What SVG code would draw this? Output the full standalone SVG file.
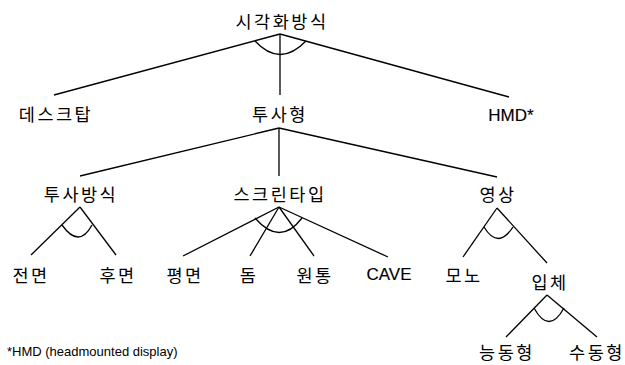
<svg xmlns="http://www.w3.org/2000/svg" width="625" height="365" viewBox="0 0 625 365">
<style>
.k{font-family:"Noto Sans CJK KR","Noto Sans",sans-serif;font-size:17.5px;letter-spacing:2.5px;text-anchor:middle;fill:#000}
.l{font-family:"Liberation Sans",Arial,sans-serif;font-size:17px;text-anchor:middle;fill:#000;stroke:#000;stroke-width:0.15}
.f{font-family:"Liberation Sans",Arial,sans-serif;font-size:13px;fill:#000}
.c line,.c path{stroke:#000;stroke-width:1.3;fill:none}
</style>
<rect width="625" height="365" fill="#fff"/>
<g class="c" id="connectors">
<line x1="280" y1="34" x2="54" y2="95"/>
<line x1="280" y1="34" x2="280" y2="95"/>
<line x1="280" y1="34" x2="509" y2="97"/>
<path d="M255,41 Q280,68 306,41"/>
<line x1="279" y1="128" x2="80" y2="176"/>
<line x1="279" y1="128" x2="279" y2="176"/>
<line x1="279" y1="128" x2="497" y2="177"/>
<line x1="80" y1="207" x2="31" y2="255"/>
<line x1="80" y1="207" x2="116" y2="255"/>
<path d="M62,225 Q79,249 92,225"/>
<line x1="279" y1="207" x2="183" y2="256"/>
<line x1="279" y1="207" x2="250" y2="256"/>
<line x1="279" y1="207" x2="314" y2="256"/>
<line x1="279" y1="207" x2="388" y2="257"/>
<path d="M255,218 Q280,247 302,218"/>
<line x1="497" y1="208" x2="463" y2="257"/>
<line x1="497" y1="208" x2="547" y2="263"/>
<path d="M484,227 Q498,250 513,227"/>
<line x1="547" y1="295" x2="506" y2="337"/>
<line x1="547" y1="295" x2="597" y2="337"/>
<path d="M534,308 Q549,335 564,308"/>
</g>
<g id="n-root"><text class="k" x="282" y="28">시각화방식</text></g>
<g id="n-desktop"><text class="k" x="56" y="121">데스크탑</text></g>
<g id="n-proj"><text class="k" x="280" y="121">투사형</text></g>
<g id="n-hmd"><text class="l" x="511" y="121">HMD*</text></g>
<g id="n-projmethod"><text class="k" x="81" y="201">투사방식</text></g>
<g id="n-screentype"><text class="k" x="280" y="201">스크린타입</text></g>
<g id="n-image"><text class="k" x="498" y="201">영상</text></g>
<g id="n-front"><text class="k" x="31" y="282">전면</text></g>
<g id="n-rear"><text class="k" x="118" y="282">후면</text></g>
<g id="n-flat"><text class="k" x="185" y="282">평면</text></g>
<g id="n-dome"><text class="k" x="249" y="282">돔</text></g>
<g id="n-cyl"><text class="k" x="315" y="282">원통</text></g>
<g id="n-cave"><text class="l" x="389" y="280">CAVE</text></g>
<g id="n-mono"><text class="k" x="464" y="282">모노</text></g>
<g id="n-stereo"><text class="k" x="550" y="289">입체</text></g>
<g id="n-active"><text class="k" x="507" y="359">능동형</text></g>
<g id="n-passive"><text class="k" x="597" y="359">수동형</text></g>
<text class="f" x="7" y="356">*HMD (headmounted display)</text>
</svg>
